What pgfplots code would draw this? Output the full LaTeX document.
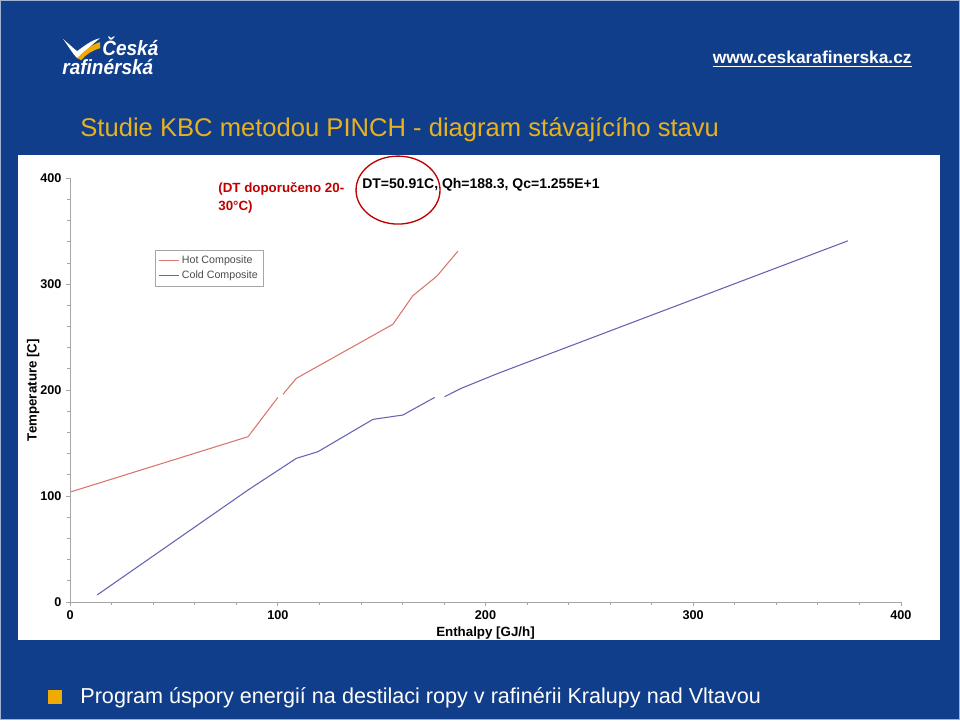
\documentclass[border=0pt]{standalone}
\usepackage{pgfplots}
\pgfplotsset{compat=1.18}
\usepackage{fontspec}
\setmainfont{Liberation Sans}
\definecolor{slideblue}{RGB}{16,62,138}
\definecolor{titlegold}{RGB}{232,178,30}
\definecolor{squaregold}{RGB}{240,170,0}
\definecolor{hotc}{RGB}{218,118,110}
\definecolor{coldc}{RGB}{100,100,178}
\definecolor{annred}{RGB}{192,0,0}
\begin{document}
\begin{tikzpicture}
\begin{scope}[x=0.75pt,y=0.75pt]
% slide background
\fill[slideblue] (0,0) rectangle (960,720);
\draw[white!60!slideblue, line width=1pt] (0.5,0.5) rectangle (959.5,719.5);
\fill[white] (18,80) rectangle (940,565);
% logo swoosh
\fill[white] (63,681) .. controls (69,673) and (72,667) .. (77,662) .. controls (85,668) and (92,676) .. (100,682) .. controls (91,680) and (84,674) .. (77,669) .. controls (73,672) and (69,676) .. (63,681) -- cycle;
\fill[squaregold] (77,662) .. controls (85,670) and (92,676) .. (100,678) -- (100,672) .. controls (93,670) and (86,666) .. (81,660) -- cycle;
\node[anchor=west, white, font=\bfseries\itshape\fontsize{15.5}{16}\selectfont, xscale=0.92, inner sep=0pt] at (102,674) {Česká};
\node[anchor=west, white, font=\bfseries\itshape\fontsize{15.5}{16}\selectfont, xscale=0.92, inner sep=0pt] at (62,653) {rafinérská};
% url
\node[anchor=east, white, font=\bfseries\fontsize{13}{14}\selectfont, inner sep=0pt] (url) at (912,663) {www.ceskarafinerska.cz};
\draw[white, line width=0.8pt] ([yshift=-2pt]url.south west) -- ([yshift=-2pt]url.south east);
% title
\node[anchor=west, text=titlegold, font=\fontsize{19.2}{22}\selectfont, inner sep=0pt] at (80,590) {Studie KBC metodou PINCH - diagram stávajícího stavu};
% footer
\fill[squaregold] (48,16) rectangle (62,30);
\node[anchor=west, white, font=\fontsize{16.2}{18}\selectfont, inner sep=0pt] at (80,22) {Program úspory energií na destilaci ropy v rafinérii Kralupy nad Vltavou};
\end{scope}
\begin{axis}[
  at={(52.5pt,88.5pt)}, anchor=south west, scale only axis,
  width=623.25pt, height=318pt,
  xmin=0, xmax=400, ymin=0, ymax=400,
  axis x line*=bottom, axis y line*=left,
  axis line style={-, gray!70, line width=0.6pt},
  xtick={0,100,...,400}, ytick={0,100,...,400}, minor tick num=4,
  tick align=outside, major tick length=3pt, minor tick length=2pt,
  tick style={gray!70, line width=0.5pt},
  /pgf/number format/assume math mode=true,
  ticklabel style={font=\bfseries\fontsize{9.5}{10}\selectfont},
  xlabel={Enthalpy [GJ/h]}, ylabel={Temperature [C]},
  label style={font=\bfseries\fontsize{10}{12}\selectfont},
  xlabel style={at={(axis description cs:0.5,-0.073)}, anchor=center},
  ylabel style={at={(axis description cs:-0.0445,0.5)}, anchor=center},
  unbounded coords=jump,
  legend style={at={(axis cs:41,332)}, anchor=north west, draw=gray!70,
    font=\fontsize{8}{9}\selectfont, text=gray!60!black, row sep=0pt, inner sep=2pt},
  legend cell align=left,
  legend image code/.code={\draw[#1] (0pt,0pt) -- (15pt,0pt);},
  clip=false,
]
\addplot[hotc, line width=0.8pt] coordinates {
  (0.5,104) (85.7,156) (100,193) (101,nan) (102.5,196) (108.9,211)
  (155.4,262) (165,289) (176.6,307.5) (186.7,331)
};
\addlegendentry{Hot Composite}
\addplot[coldc, line width=0.8pt] coordinates {
  (13,6.6) (85.7,105.7) (108.9,135.5) (119.3,141.8) (145.8,172.3)
  (160.2,176.4) (175.5,193) (177,nan) (180.3,193.7) (188.3,201.6)
  (206,215.7) (374.5,340.8)
};
\addlegendentry{Cold Composite}
\end{axis}
\begin{scope}[x=0.75pt,y=0.75pt]
% annotations
\node[anchor=north west, text=annred, font=\bfseries\fontsize{10}{13.5}\selectfont, align=left, inner sep=0pt] at (218,538) {(DT doporučeno 20-\\30°C)};
\node[anchor=west, font=\bfseries\fontsize{10.5}{12}\selectfont, inner sep=0pt] at (362,535) {DT=50.91C, Qh=188.3, Qc=1.255E+1};
\draw[annred, line width=1pt] (398,530) ellipse [x radius=42, y radius=34];
\end{scope}
\end{tikzpicture}
\end{document}
